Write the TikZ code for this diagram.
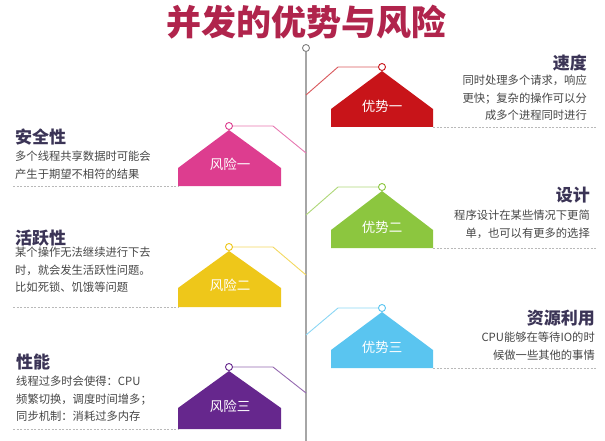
\documentclass[tikz,border=0pt]{standalone}
\usepackage{fontspec}
\setmainfont{Noto Sans CJK SC}
\usepackage{xcolor}
\usepackage{tikz}
\usetikzlibrary{positioning}
\definecolor{titlered}{RGB}{176,36,76}
\definecolor{headcol}{RGB}{59,52,86}
\definecolor{desccol}{RGB}{70,70,70}
\definecolor{advred}{RGB}{200,20,25}
\definecolor{advgreen}{RGB}{140,198,63}
\definecolor{advblue}{RGB}{90,197,240}
\definecolor{riskpink}{RGB}{221,61,143}
\definecolor{riskyellow}{RGB}{238,199,26}
\definecolor{riskpurple}{RGB}{102,39,141}

\begin{document}
\begin{tikzpicture}[x=1pt,y=-1pt,
  bigtitle/.style={font=\bfseries\fontsize{35}{40}\selectfont,text=titlered,inner sep=0pt},
  heading/.style={font=\bfseries\fontsize{17}{20}\selectfont,text=headcol,inner sep=0pt},
  desc/.style={font=\fontsize{11.3}{17.5}\selectfont,text=desccol,inner sep=0pt},
  tag/.style={font=\fontsize{13.5}{16}\selectfont,text=white,inner sep=0pt},
  dot/.style={circle,draw=#1,fill=white,line width=0.9pt,minimum size=7pt,inner sep=0pt},
  link/.style={draw=#1!70,line width=0.9pt},
  spine/.style={draw=gray!70,line width=1.2pt},
  rule/.style={draw=gray!55,line width=0.6pt,dash pattern=on 2pt off 1.5pt},
]
\useasboundingbox (0,0) rectangle (605,441);

% title and spine
\node[bigtitle] (title) at (306,22) {并发的优势与风险};
\node[dot=gray] (top) at (306,48) {};
\coordinate (bottom) at (306,441);
\draw[spine] (top) -- (bottom);

% advantage 1
\fill[advred] (331,127) -- (331,109) -- (382,71) -- (433,109) -- (433,127) -- cycle;
\node[tag] (adv1) at (382,106) {优势一};
\node[dot=advred] (c1) at (382,67) {};
\coordinate (s1) at (306,95);
\coordinate (b1) at (338,67);
\draw[link=advred] (s1) -- (b1) -- (c1);
\coordinate (h1) at (433,127);
\coordinate (e1) at (597,127);
\draw[rule] (h1) -- (e1);
\node[heading,anchor=east] (speed) at (587,63) {速度};
\node[desc,anchor=north east,align=right] (speedtxt) at (587,75) {同时处理多个请求，响应\\更快；复杂的操作可以分\\成多个进程同时进行};

% advantage 2
\fill[advgreen] (331,248) -- (331,230) -- (382,191) -- (433,230) -- (433,248) -- cycle;
\node[tag] (adv2) at (382,227) {优势二};
\node[dot=advgreen] (c2) at (382,187) {};
\coordinate (s2) at (306,215);
\coordinate (b2) at (338,187);
\draw[link=advgreen] (s2) -- (b2) -- (c2);
\coordinate (h2) at (433,248);
\coordinate (e2) at (597,248);
\draw[rule] (h2) -- (e2);
\node[heading,anchor=east] (design) at (590,195) {设计};
\node[desc,anchor=north east,align=right] (designtxt) at (590,210) {程序设计在某些情况下更简\\单，也可以有更多的选择};

% advantage 3
\fill[advblue] (331,368) -- (331,350) -- (382,312) -- (433,350) -- (433,368) -- cycle;
\node[tag] (adv3) at (382,347) {优势三};
\node[dot=advblue] (c3) at (382,308) {};
\coordinate (s3) at (306,335);
\coordinate (b3) at (338,308);
\draw[link=advblue] (s3) -- (b3) -- (c3);
\coordinate (h3) at (433,368);
\coordinate (e3) at (597,368);
\draw[rule] (h3) -- (e3);
\node[heading,anchor=east] (resource) at (595,318) {资源利用};
\node[desc,anchor=north east,align=right] (resourcetxt) at (595,332) {CPU能够在等待IO的时\\候做一些其他的事情};

% risk 1
\fill[riskpink] (178,186) -- (178,168) -- (229,130) -- (281,168) -- (281,186) -- cycle;
\node[tag] (risk1) at (230,164) {风险一};
\node[dot=riskpink] (d1) at (229,126) {};
\coordinate (t1) at (306,153);
\coordinate (k1) at (273,126);
\draw[link=riskpink] (d1) -- (k1) -- (t1);
\coordinate (g1) at (178,186);
\coordinate (f1) at (13,186);
\draw[rule] (f1) -- (g1);
\node[heading,anchor=west] (safety) at (15,137) {安全性};
\node[desc,anchor=north west,align=left] (safetytxt) at (15,151) {多个线程共享数据时可能会\\产生于期望不相符的结果};

% risk 2
\fill[riskyellow] (178,307) -- (178,288) -- (229,251) -- (281,288) -- (281,307) -- cycle;
\node[tag] (risk2) at (230,285) {风险二};
\node[dot=riskyellow] (d2) at (229,247) {};
\coordinate (t2) at (306,275);
\coordinate (k2) at (273,247);
\draw[link=riskyellow] (d2) -- (k2) -- (t2);
\coordinate (g2) at (178,307);
\coordinate (f2) at (13,307);
\draw[rule] (f2) -- (g2);
\node[heading,anchor=west] (liveness) at (15,238) {活跃性};
\node[desc,anchor=north west,align=left] (livenesstxt) at (15,247) {某个操作无法继续进行下去\\时，就会发生活跃性问题。\\比如死锁、饥饿等问题};

% risk 3
\fill[riskpurple] (178,429) -- (178,408) -- (229,371) -- (281,408) -- (281,429) -- cycle;
\node[tag] (risk3) at (230,406) {风险三};
\node[dot=riskpurple] (d3) at (229,367) {};
\coordinate (t3) at (306,393);
\coordinate (k3) at (273,367);
\draw[link=riskpurple] (d3) -- (k3) -- (t3);
\coordinate (g3) at (178,429);
\coordinate (f3) at (13,429);
\draw[rule] (f3) -- (g3);
\node[heading,anchor=west] (perf) at (16,362) {性能};
\node[desc,anchor=north west,align=left] (perftxt) at (16,376) {线程过多时会使得：CPU\\频繁切换，调度时间增多；\\同步机制：消耗过多内存};
\end{tikzpicture}
\end{document}
